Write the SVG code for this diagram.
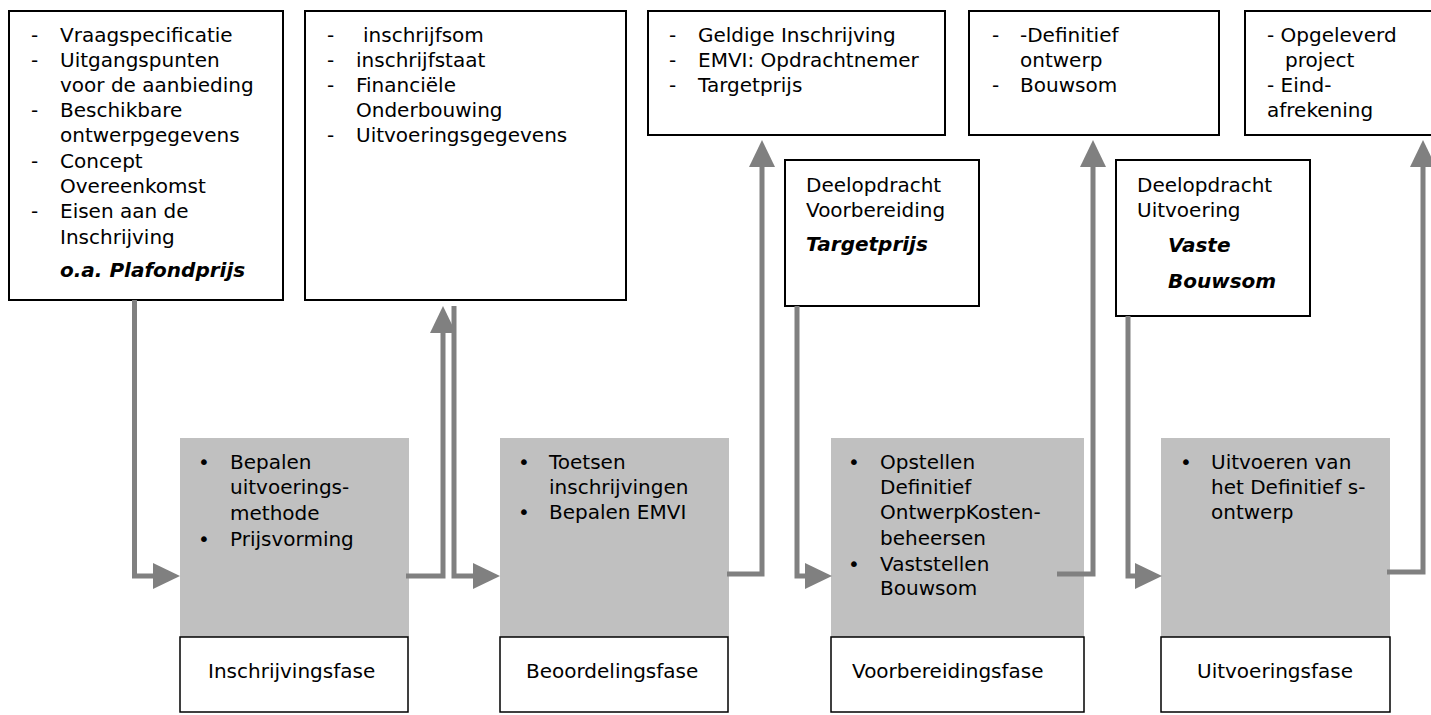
<svg xmlns="http://www.w3.org/2000/svg" width="1431" height="715" viewBox="0 0 1431 715">
<style>
  text { font-family: "DejaVu Sans", "Liberation Sans", sans-serif; font-size: 20px; fill: #000; }
  .bi { font-weight: bold; font-style: italic; }
  .box { fill: #fff; stroke: #000; stroke-width: 2; }
  .lab { fill: #fff; stroke: #000; stroke-width: 1.5; }
  .gray { fill: #c0c0c0; }
  .mid { text-anchor: middle; }
  .con { fill: none; stroke: #808080; stroke-width: 5; stroke-linejoin: miter; }
</style>
<defs>
  <marker id="ah" markerUnits="userSpaceOnUse" markerWidth="27" markerHeight="26" refX="0" refY="13" orient="auto" viewBox="0 0 27 26">
    <path d="M0,0 L27,13 L0,26 Z" fill="#808080"/>
  </marker>
</defs>

<g id="out-inschrijving">
  <rect class="box" x="9" y="11" width="274" height="289"/>
  <text x="31" y="42">-</text><text x="60" y="42">Vraagspecificatie</text>
  <text x="31" y="67">-</text><text x="60" y="67">Uitgangspunten</text>
  <text x="60" y="92">voor de aanbieding</text>
  <text x="31" y="117">-</text><text x="60" y="117">Beschikbare</text>
  <text x="60" y="142">ontwerpgegevens</text>
  <text x="31" y="168">-</text><text x="60" y="168">Concept</text>
  <text x="60" y="193">Overeenkomst</text>
  <text x="31" y="218">-</text><text x="60" y="218">Eisen aan de</text>
  <text x="60" y="244">Inschrijving</text>
  <text class="bi" x="60" y="277">o.a. Plafondprijs</text>
</g>

<g id="out-beoordeling">
  <rect class="box" x="305" y="11" width="321" height="289"/>
  <text x="327" y="42">-</text><text x="363" y="42">inschrijfsom</text>
  <text x="327" y="67">-</text><text x="356" y="67">inschrijfstaat</text>
  <text x="327" y="92">-</text><text x="356" y="92">Financiële</text>
  <text x="356" y="117">Onderbouwing</text>
  <text x="327" y="142">-</text><text x="356" y="142">Uitvoeringsgegevens</text>
</g>

<g id="out-voorbereiding">
  <rect class="box" x="648" y="11" width="297" height="124"/>
  <text x="669" y="42">-</text><text x="698" y="42">Geldige Inschrijving</text>
  <text x="669" y="67">-</text><text x="698" y="67">EMVI: Opdrachtnemer</text>
  <text x="669" y="92">-</text><text x="698" y="92">Targetprijs</text>
</g>

<g id="deelopdracht-voorbereiding">
  <rect class="box" x="785" y="160" width="194" height="146"/>
  <text x="806" y="192">Deelopdracht</text>
  <text x="806" y="217">Voorbereiding</text>
  <text class="bi" x="806" y="251">Targetprijs</text>
</g>

<g id="out-uitvoering">
  <rect class="box" x="969" y="11" width="250" height="124"/>
  <text x="992" y="42">-</text><text x="1020" y="42">-Definitief</text>
  <text x="1020" y="67">ontwerp</text>
  <text x="992" y="92">-</text><text x="1020" y="92">Bouwsom</text>
</g>

<g id="deelopdracht-uitvoering">
  <rect class="box" x="1116" y="160" width="194" height="156"/>
  <text x="1137" y="192">Deelopdracht</text>
  <text x="1137" y="217">Uitvoering</text>
  <text class="bi" x="1168" y="252">Vaste</text>
  <text class="bi" x="1168" y="288">Bouwsom</text>
</g>

<g id="out-eind">
  <rect class="box" x="1245" y="11" width="190" height="124"/>
  <text x="1267" y="42">- Opgeleverd</text>
  <text x="1285" y="67">project</text>
  <text x="1267" y="92">- Eind-</text>
  <text x="1267" y="117">afrekening</text>
</g>

<g id="fase-inschrijving">
  <rect class="gray" x="180" y="438" width="229" height="199"/>
  <text class="mid" x="204" y="469">•</text><text x="230" y="469">Bepalen</text>
  <text x="230" y="494">uitvoerings-</text>
  <text x="230" y="520">methode</text>
  <text class="mid" x="204" y="546">•</text><text x="230" y="546">Prijsvorming</text>
  <rect class="lab" x="180" y="637" width="228" height="75"/>
  <text x="208" y="678">Inschrijvingsfase</text>
</g>

<g id="fase-beoordeling">
  <rect class="gray" x="500" y="438" width="229" height="199"/>
  <text class="mid" x="524" y="469">•</text><text x="549" y="469">Toetsen</text>
  <text x="549" y="494">inschrijvingen</text>
  <text class="mid" x="524" y="519">•</text><text x="549" y="519">Bepalen EMVI</text>
  <rect class="lab" x="500" y="637" width="228" height="75"/>
  <text x="526" y="678">Beoordelingsfase</text>
</g>

<g id="fase-voorbereiding">
  <rect class="gray" x="831" y="438" width="253" height="199"/>
  <text class="mid" x="854" y="469">•</text><text x="880" y="469">Opstellen</text>
  <text x="880" y="494">Definitief</text>
  <text x="880" y="519">OntwerpKosten-</text>
  <text x="880" y="545">beheersen</text>
  <text class="mid" x="854" y="571">•</text><text x="880" y="571">Vaststellen</text>
  <text x="880" y="595">Bouwsom</text>
  <rect class="lab" x="831" y="637" width="253" height="75"/>
  <text x="852" y="678">Voorbereidingsfase</text>
</g>

<g id="fase-uitvoering">
  <rect class="gray" x="1161" y="438" width="229" height="199"/>
  <text class="mid" x="1186" y="469">•</text><text x="1211" y="469">Uitvoeren van</text>
  <text x="1211" y="494">het Definitief s-</text>
  <text x="1211" y="519">ontwerp</text>
  <rect class="lab" x="1161" y="637" width="229" height="75"/>
  <text x="1197" y="678">Uitvoeringsfase</text>
</g>

<g id="connectors">
  <path class="con" marker-end="url(#ah)" d="M134.5,300 V576 H153"/>
  <path class="con" marker-end="url(#ah)" d="M406,576 H443 V333"/>
  <path class="con" marker-end="url(#ah)" d="M454,306 V576 H473"/>
  <path class="con" marker-end="url(#ah)" d="M727,574 H762 V167"/>
  <path class="con" marker-end="url(#ah)" d="M797,306 V576 H805"/>
  <path class="con" marker-end="url(#ah)" d="M1057,574 H1093 V167"/>
  <path class="con" marker-end="url(#ah)" d="M1128,316 V576 H1135"/>
  <path class="con" marker-end="url(#ah)" d="M1387,572 H1423 V167"/>
</g>
</svg>
